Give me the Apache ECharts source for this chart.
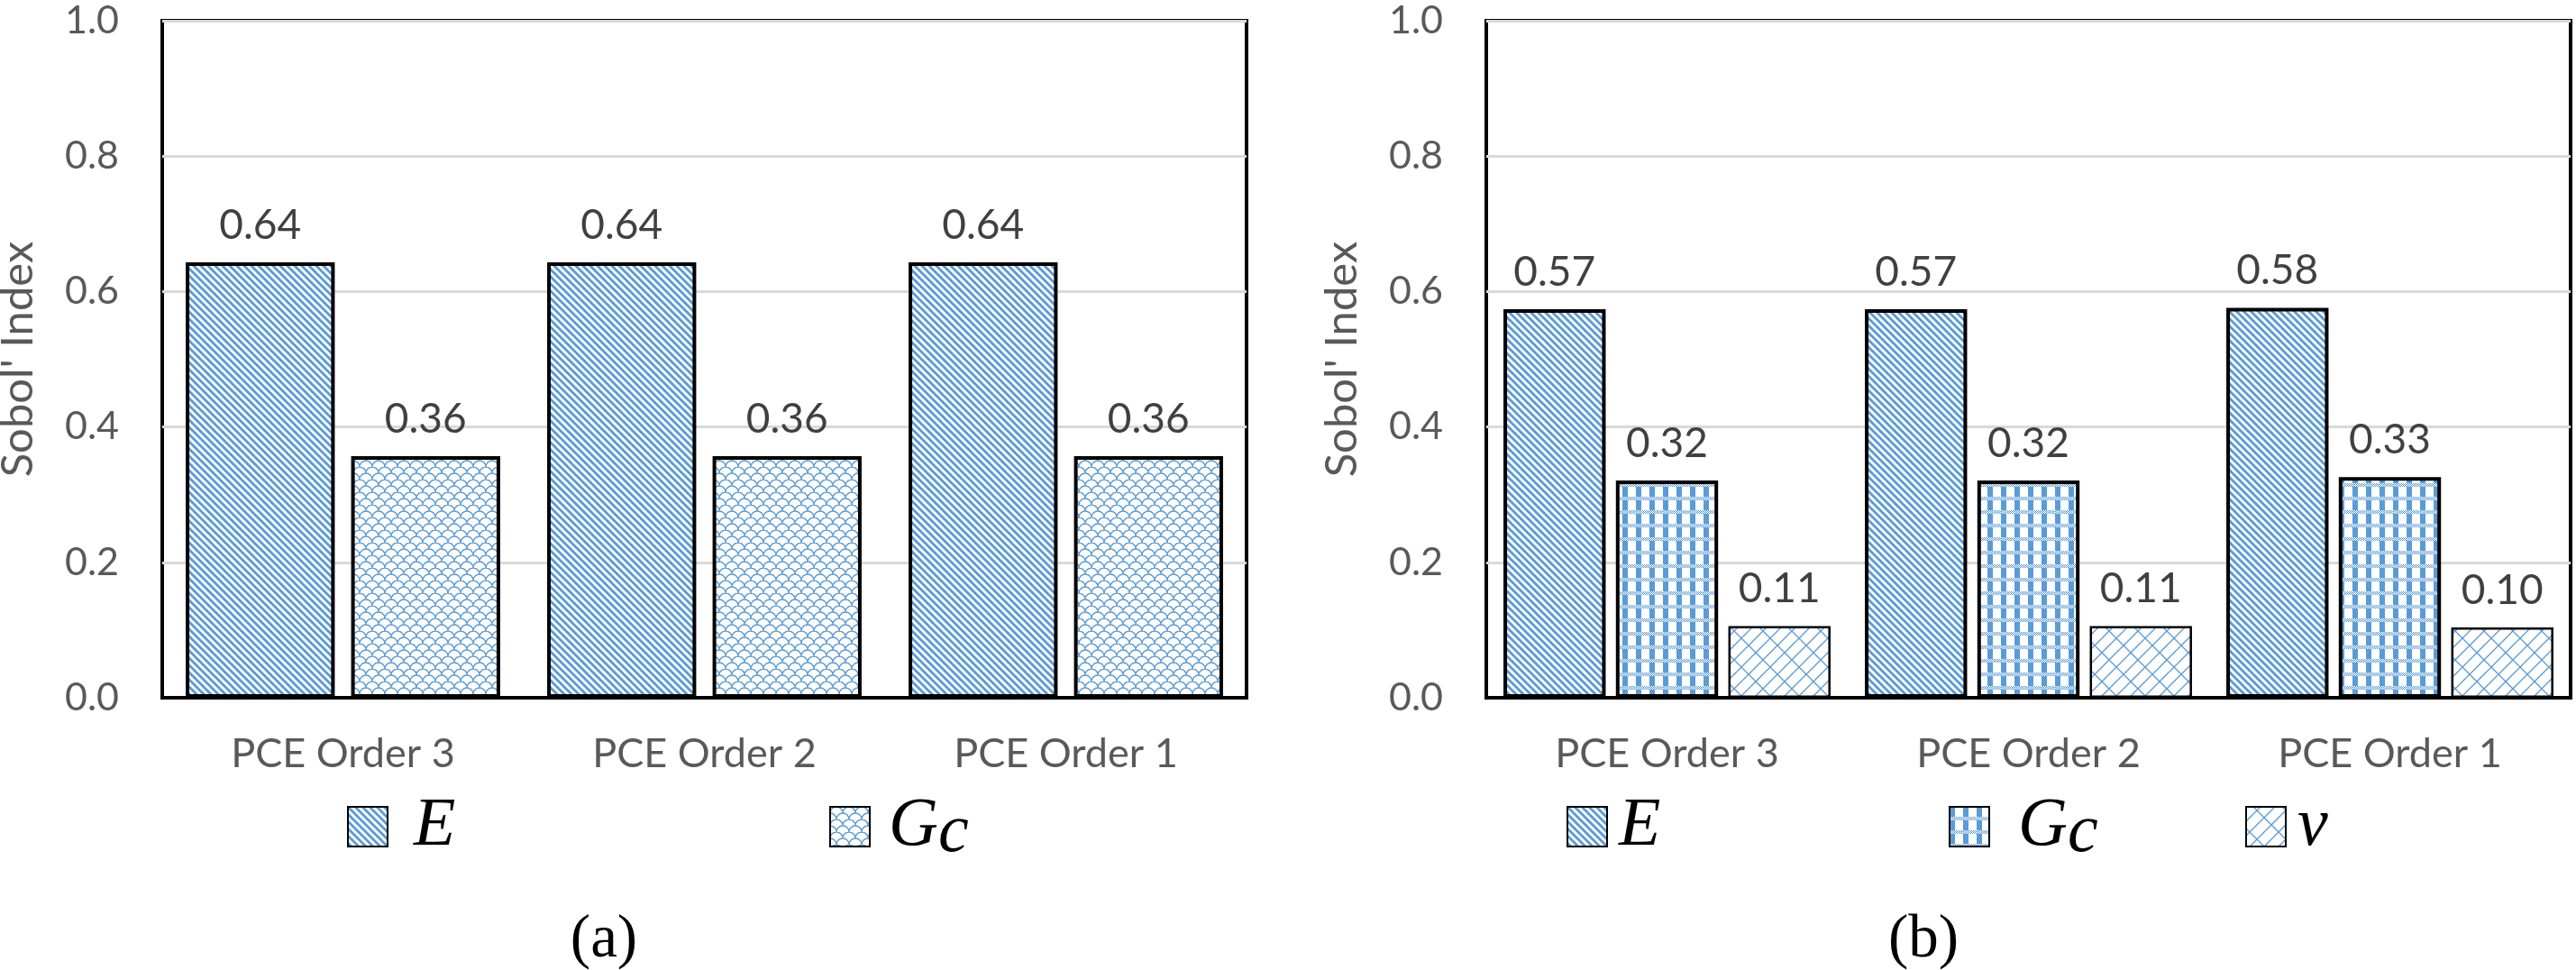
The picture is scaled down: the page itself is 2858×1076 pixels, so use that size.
<!DOCTYPE html>
<html><head><meta charset="utf-8">
<script src="https://cdn.jsdelivr.net/npm/echarts@6/dist/echarts.min.js"></script>
<style>html,body{margin:0;padding:0;background:#fff}#c{width:2858px;height:1076px}</style>
</head><body><div id="c"></div>
<script>
// ---- data ----
const categories = ['PCE Order 3', 'PCE Order 2', 'PCE Order 1'];
const aE  = [0.643, 0.643, 0.643];
const aGc = [0.357, 0.357, 0.357];
const bE  = [0.574, 0.574, 0.576];
const bGc = [0.321, 0.321, 0.326];
const bNu = [0.106, 0.106, 0.104];
const yMin = 0, yMax = 1, yStep = 0.2;
const yTitle = "Sobol' Index";
const legendLabels = { aE: '{g|E}', aGc: '{g|G}{s|c}', bE: '{g|E}', bGc: '{g|G}{s|c}', bNu: '{g|ν}' };
const captions = ['(a)', '(b)'];

// ---- patterns ----
const BLUE = '#5b9bd5';
function tile(w, h, draw) {
  const c = document.createElement('canvas');
  c.width = w; c.height = h;
  const ctx = c.getContext('2d');
  ctx.fillStyle = '#fff'; ctx.fillRect(0, 0, w, h);
  ctx.strokeStyle = BLUE; ctx.fillStyle = BLUE;
  draw(ctx);
  return c;
}
const patDiag = tile(16, 16, ctx => {
  ctx.lineWidth = 2.9;
  for (let x0 = -24; x0 <= 24; x0 += 8) {
    ctx.beginPath(); ctx.moveTo(x0 - 4, -4); ctx.lineTo(x0 + 20, 20); ctx.stroke();
  }
});
const patShingle = tile(14, 14, ctx => {
  ctx.lineWidth = 1.4;
  [[7, 7], [0, 14], [14, 14]].forEach(([cx, cy]) => {
    ctx.beginPath(); ctx.arc(cx, cy, 7, Math.PI, 2 * Math.PI); ctx.stroke();
  });
});
const patCheck = tile(15, 15, ctx => {
  ctx.fillRect(0, 0, 6, 11);
  for (let y = 11; y < 15; y++) for (let x = 0; x < 15; x++) {
    if ((x + y) % 2 === 0) ctx.fillRect(x, y, 1, 1);
  }
});
const patBrick = tile(32, 32, ctx => {
  ctx.lineWidth = 1.3;
  for (let c = -32; c <= 96; c += 16) {
    ctx.beginPath(); ctx.moveTo(c + 40, -40); ctx.lineTo(c - 40, 40); ctx.stroke();
    const i = Math.round(c / 16);
    const off = 4 + 8 * (((i % 2) + 2) % 2);
    for (let t = off - 64; t <= 96; t += 16) {
      ctx.beginPath(); ctx.moveTo(t, c - t); ctx.lineTo(t + 8, c - t + 8); ctx.stroke();
    }
  }
});
const pat = img => ({ image: img, repeat: 'repeat' });

// ---- common styles ----
const GRAY = '#595959';
const SANS = 'Lato';
const SERIF = 'Liberation Serif';
const gridBase = { top: 23, width: 1203, height: 751, show: true, borderColor: '#000', borderWidth: 4, backgroundColor: '#fff', outerBoundsMode: 'none', containLabel: false };

function xAxis(gi) {
  return {
    type: 'category', gridIndex: gi, data: categories,
    axisLine: { lineStyle: { color: '#000', width: 4 } },
    axisTick: { show: false },
    axisLabel: { fontFamily: SANS, fontSize: 45, color: GRAY, margin: 40 },
    splitLine: { show: false }
  };
}
function yAxis(gi) {
  return {
    type: 'value', gridIndex: gi, min: yMin, max: yMax, interval: yStep,
    axisLine: { show: false }, axisTick: { show: false },
    axisLabel: { fontFamily: SANS, fontSize: 43, color: GRAY, margin: 48, formatter: v => v.toFixed(1) },
    splitLine: { lineStyle: { color: '#d9d9d9', width: 3 } },
    name: yTitle, nameLocation: 'middle', nameGap: 135,
    nameTextStyle: { fontFamily: SANS, fontSize: 49, color: GRAY }
  };
}
const labelCfg = { show: true, position: 'top', distance: 18, fontFamily: SANS, fontSize: 46, color: '#404040', formatter: p => p.value.toFixed(2) };
function bar(name, gi, data, fill, bw, gap, catGap) {
  return {
    type: 'bar', name, xAxisIndex: gi, yAxisIndex: gi, data,
    barGap: gap, barCategoryGap: catGap,
    itemStyle: { color: pat(fill), borderColor: '#000', borderWidth: bw },
    label: labelCfg, emphasis: { disabled: true }, silent: true
  };
}
function legend(name, left, padLeft) {
  return {
    data: [name], left, top: 879, padding: 0, icon: 'rect', itemWidth: 44, itemHeight: 44,
    selectedMode: false, formatter: n => legendLabels[n],
    textStyle: {
      padding: [0, 0, 0, padLeft],
      rich: {
        g: { fontFamily: SERIF, fontStyle: 'italic', fontSize: 76, color: '#000', lineHeight: 90, verticalAlign: 'middle' },
        s: { fontFamily: SERIF, fontStyle: 'italic', fontSize: 76, color: '#000', lineHeight: 68, verticalAlign: 'bottom' }
      }
    }
  };
}

const option = {
  animation: false,
  backgroundColor: '#fff',
  grid: [Object.assign({ left: 180 }, gridBase), Object.assign({ left: 1649 }, gridBase)],
  xAxis: [xAxis(0), xAxis(1)],
  yAxis: [yAxis(0), yAxis(1)],
  legend: [legend('aE', 385, 24), legend('aGc', 920, 16), legend('bE', 1738, 8), legend('bGc', 2162, 27), legend('bNu', 2491, 8)],
  series: [
    bar('aE', 0, aE, patDiag, 4, '11%', '13%'),
    bar('aGc', 0, aGc, patShingle, 4, '11%', '13%'),
    bar('bE', 1, bE, patDiag, 4, '10%', '9.5%'),
    bar('bGc', 1, bGc, patCheck, 4, '10%', '9.5%'),
    bar('bNu', 1, bNu, patBrick, 2.5, '10%', '9.5%')
  ],
  graphic: [
    { type: 'text', x: 670, y: 1043, style: { text: captions[0], font: '67px "Liberation Serif"', fill: '#000', textAlign: 'center', textVerticalAlign: 'middle' } },
    { type: 'text', x: 2134, y: 1043, style: { text: captions[1], font: '67px "Liberation Serif"', fill: '#000', textAlign: 'center', textVerticalAlign: 'middle' } }
  ]
};
const chart = echarts.init(document.getElementById('c'), null, { renderer: 'canvas' });
chart.setOption(option);
</script></body></html>
